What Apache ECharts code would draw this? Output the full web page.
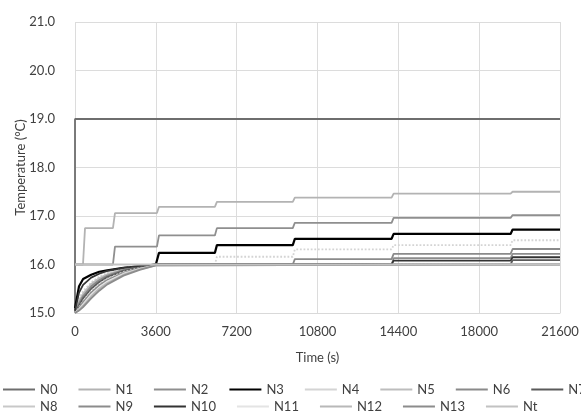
<!DOCTYPE html>
<html>
<head>
<meta charset="utf-8">
<script src="https://cdn.jsdelivr.net/npm/echarts@6/dist/echarts.min.js"></script>
<style>
  html, body { margin: 0; padding: 0; background: #fff; }
  #chart { width: 581px; height: 412px; }
</style>
</head>
<body>
<div id="chart"></div>
<script>
// node names, in legend order
var nodeNames = ['N0', 'N1', 'N2', 'N3', 'N4', 'N5', 'N6', 'N7', 'N8', 'N9', 'N10', 'N11', 'N12', 'N13', 'Nt'];

// warm-up part (s) and the times at which the steps happen (s)
var riseTimes = [0, 180, 360, 720, 1080, 1440, 2160, 2880, 3600];
var stepTimes = [356, 1690, 3650, 6230, 9700, 14100, 19400];

// temperature at t = 0 before the warm-up curve
var startTemps = [15, 16, 16, 15.1, 15, 15, 15, 15, 15, 15, 15.05, 15, 15, 15, 16];

// warm-up temperatures at riseTimes
var riseValues = [
    [19, 19, 19, 19, 19, 19, 19, 19, 19],                              // N0
    [16, 16, 16, 16, 16, 16, 16, 16, 16],                              // N1
    [16, 16, 16, 16, 16, 16, 16, 16, 16],                              // N2
    [15.1, 15.55, 15.7, 15.79, 15.85, 15.88, 15.93, 15.96, 16.0],      // N3
    [15.0, 15.3, 15.45, 15.63, 15.75, 15.83, 15.92, 15.97, 16.0],      // N4
    [15.0, 15.25, 15.4, 15.6, 15.72, 15.8, 15.9, 15.96, 16.0],         // N5
    [15.0, 15.2, 15.35, 15.55, 15.68, 15.77, 15.89, 15.95, 16.0],      // N6
    [15.0, 15.15, 15.3, 15.5, 15.64, 15.74, 15.87, 15.94, 16.0],       // N7
    [15.0, 15.12, 15.25, 15.45, 15.6, 15.71, 15.85, 15.93, 15.99],     // N8
    [15.0, 15.1, 15.22, 15.42, 15.57, 15.68, 15.83, 15.92, 15.99],     // N9
    [15.05, 15.42, 15.58, 15.73, 15.81, 15.87, 15.93, 15.97, 16.0],    // N10
    [15.0, 15.08, 15.18, 15.38, 15.53, 15.65, 15.81, 15.91, 15.98],    // N11
    [15.0, 15.06, 15.15, 15.34, 15.5, 15.62, 15.79, 15.9, 15.98],      // N12
    [15.0, 15.05, 15.12, 15.3, 15.46, 15.59, 15.77, 15.89, 15.98],     // N13
    [16, 16, 16, 16, 16, 16, 16, 16, 16]                               // Nt
];

// level before the first step, then the level after each step in stepTimes
var stepLevels = [
    [19, 19, 19, 19, 19, 19, 19, 19],                     // N0
    [16, 16.75, 17.06, 17.19, 17.29, 17.38, 17.46, 17.5], // N1
    [16, 16, 16.37, 16.6, 16.75, 16.86, 16.96, 17.02],    // N2
    [16, 16, 16, 16.24, 16.4, 16.53, 16.63, 16.72],       // N3
    [16, 16, 16, 16, 16.16, 16.31, 16.4, 16.5],           // N4
    [16, 16, 16, 16, 16, 16, 16, 16],                     // N5
    [16, 16, 16, 16, 16, 16.11, 16.22, 16.32],            // N6
    [16, 16, 16, 16, 16, 16, 16, 16.09],                  // N7
    [16, 16, 16, 16, 16, 16, 16, 16],                     // N8
    [16, 16, 16, 16, 16, 16, 16.13, 16.22],               // N9
    [16, 16, 16, 16, 16, 16, 16.08, 16.15],               // N10
    [16, 16, 16, 16, 16, 16, 16, 16],                     // N11
    [16, 16, 16, 16, 16, 16, 16, 16],                     // N12
    [16, 16, 16, 16, 16, 16, 16, 16],                     // N13
    [16, 16, 16, 16, 16, 16, 16, 16]                      // Nt
];

var xTicks = [0, 3600, 7200, 10800, 14400, 18000, 21600];

var lineColors = ['#6e6e6e', '#b3b3b3', '#8f8f8f', '#000000', '#d4d4d4', '#bdbdbd', '#8a8a8a', '#5a5a5a',
                  '#c8c8c8', '#8c8c8c', '#333333', '#e4e4e4', '#b8b8b8', '#8c8c8c', '#c2c2c2'];
var lineTypes = ['solid', 'solid', 'solid', 'solid', 'dotted', 'solid', 'solid', 'solid',
                 'dotted', 'solid', 'solid', 'solid', 'solid', 'solid', 'solid'];

function buildPoints(n) {
    var rise = riseValues[n], levels = stepLevels[n];
    var pts = [[0, startTemps[n]]];
    var first = -1;
    for (var k = 1; k < levels.length; k++) {
        if (levels[k] !== levels[0]) { first = k; break; }
    }
    var tFirst = first > 0 ? stepTimes[first - 1] : Infinity;
    for (var i = 0; i < riseTimes.length; i++) {
        if (riseTimes[i] < tFirst) pts.push([riseTimes[i], rise[i]]);
    }
    var cur = levels[0];
    for (var j = 0; j < stepTimes.length; j++) {
        var next = levels[j + 1];
        if (next !== cur) {
            pts.push([stepTimes[j], cur]);
            pts.push([stepTimes[j] + 90, next]);
            cur = next;
        }
    }
    pts.push([21600, cur]);
    return pts;
}

var series = [];
for (var n = 0; n < nodeNames.length; n++) {
    series.push({
        name: nodeNames[n],
        type: 'line',
        data: buildPoints(n),
        showSymbol: false,
        symbol: 'none',
        color: lineColors[n],
        lineStyle: { width: n === 3 ? 2.2 : 1.8, type: lineTypes[n], color: lineColors[n] },
        z: 2
    });
}

var fontFam = 'Lato, "Open Sans", sans-serif';
var textCol = '#404040';

function legendBox(names, top) {
    return {
        data: names,
        left: -2,
        top: top,
        width: 720,
        orient: 'horizontal',
        itemWidth: 32,
        itemHeight: 10,
        itemGap: 21,
        icon: 'path://M0,4 L32,4 L32,6 L0,6 Z',
        formatter: '{a|{name}}',
        textStyle: { color: textCol, fontSize: 13, fontFamily: fontFam,
            rich: { a: { width: 26, fontSize: 13, fontFamily: fontFam, color: textCol } } },
        selectedMode: false
    };
}

var chart = echarts.init(document.getElementById('chart'));
var option = {
    animation: false,
    backgroundColor: '#fff',
    grid: { left: 75, right: 21, top: 22, bottom: 99, outerBoundsMode: 'none', containLabel: false },
    legend: [
        legendBox(nodeNames.slice(0, 8), 378),
        legendBox(nodeNames.slice(8), 395)
    ],
    xAxis: {
        type: 'value',
        min: 0,
        max: 21600,
        interval: 3600,
        name: 'Time (s)',
        nameLocation: 'middle',
        nameGap: 38,
        nameMoveOverlap: false,
        nameTextStyle: { color: textCol, fontSize: 13, fontFamily: fontFam },
        axisLine: { show: true, lineStyle: { color: '#d9d9d9' } },
        axisTick: { show: false },
        axisLabel: { color: textCol, fontSize: 13, fontFamily: fontFam, margin: 12,
            formatter: function (v) { return xTicks.indexOf(v) >= 0 ? String(v) : ''; } },
        splitLine: { show: true, lineStyle: { color: '#dcdcdc', width: 1 } }
    },
    yAxis: {
        type: 'value',
        min: 15,
        max: 21,
        interval: 1,
        name: 'Temperature (°C)',
        nameLocation: 'middle',
        nameGap: 48,
        nameMoveOverlap: false,
        nameTextStyle: { color: textCol, fontSize: 13, fontFamily: fontFam },
        axisLine: { show: false },
        axisTick: { show: false },
        axisLabel: { color: textCol, fontSize: 13, fontFamily: fontFam, margin: 20,
            formatter: function (v) { return v.toFixed(1); } },
        splitLine: { show: true, lineStyle: { color: '#dcdcdc', width: 1 } }
    },
    series: series
};
chart.setOption(option);
</script>
</body>
</html>
